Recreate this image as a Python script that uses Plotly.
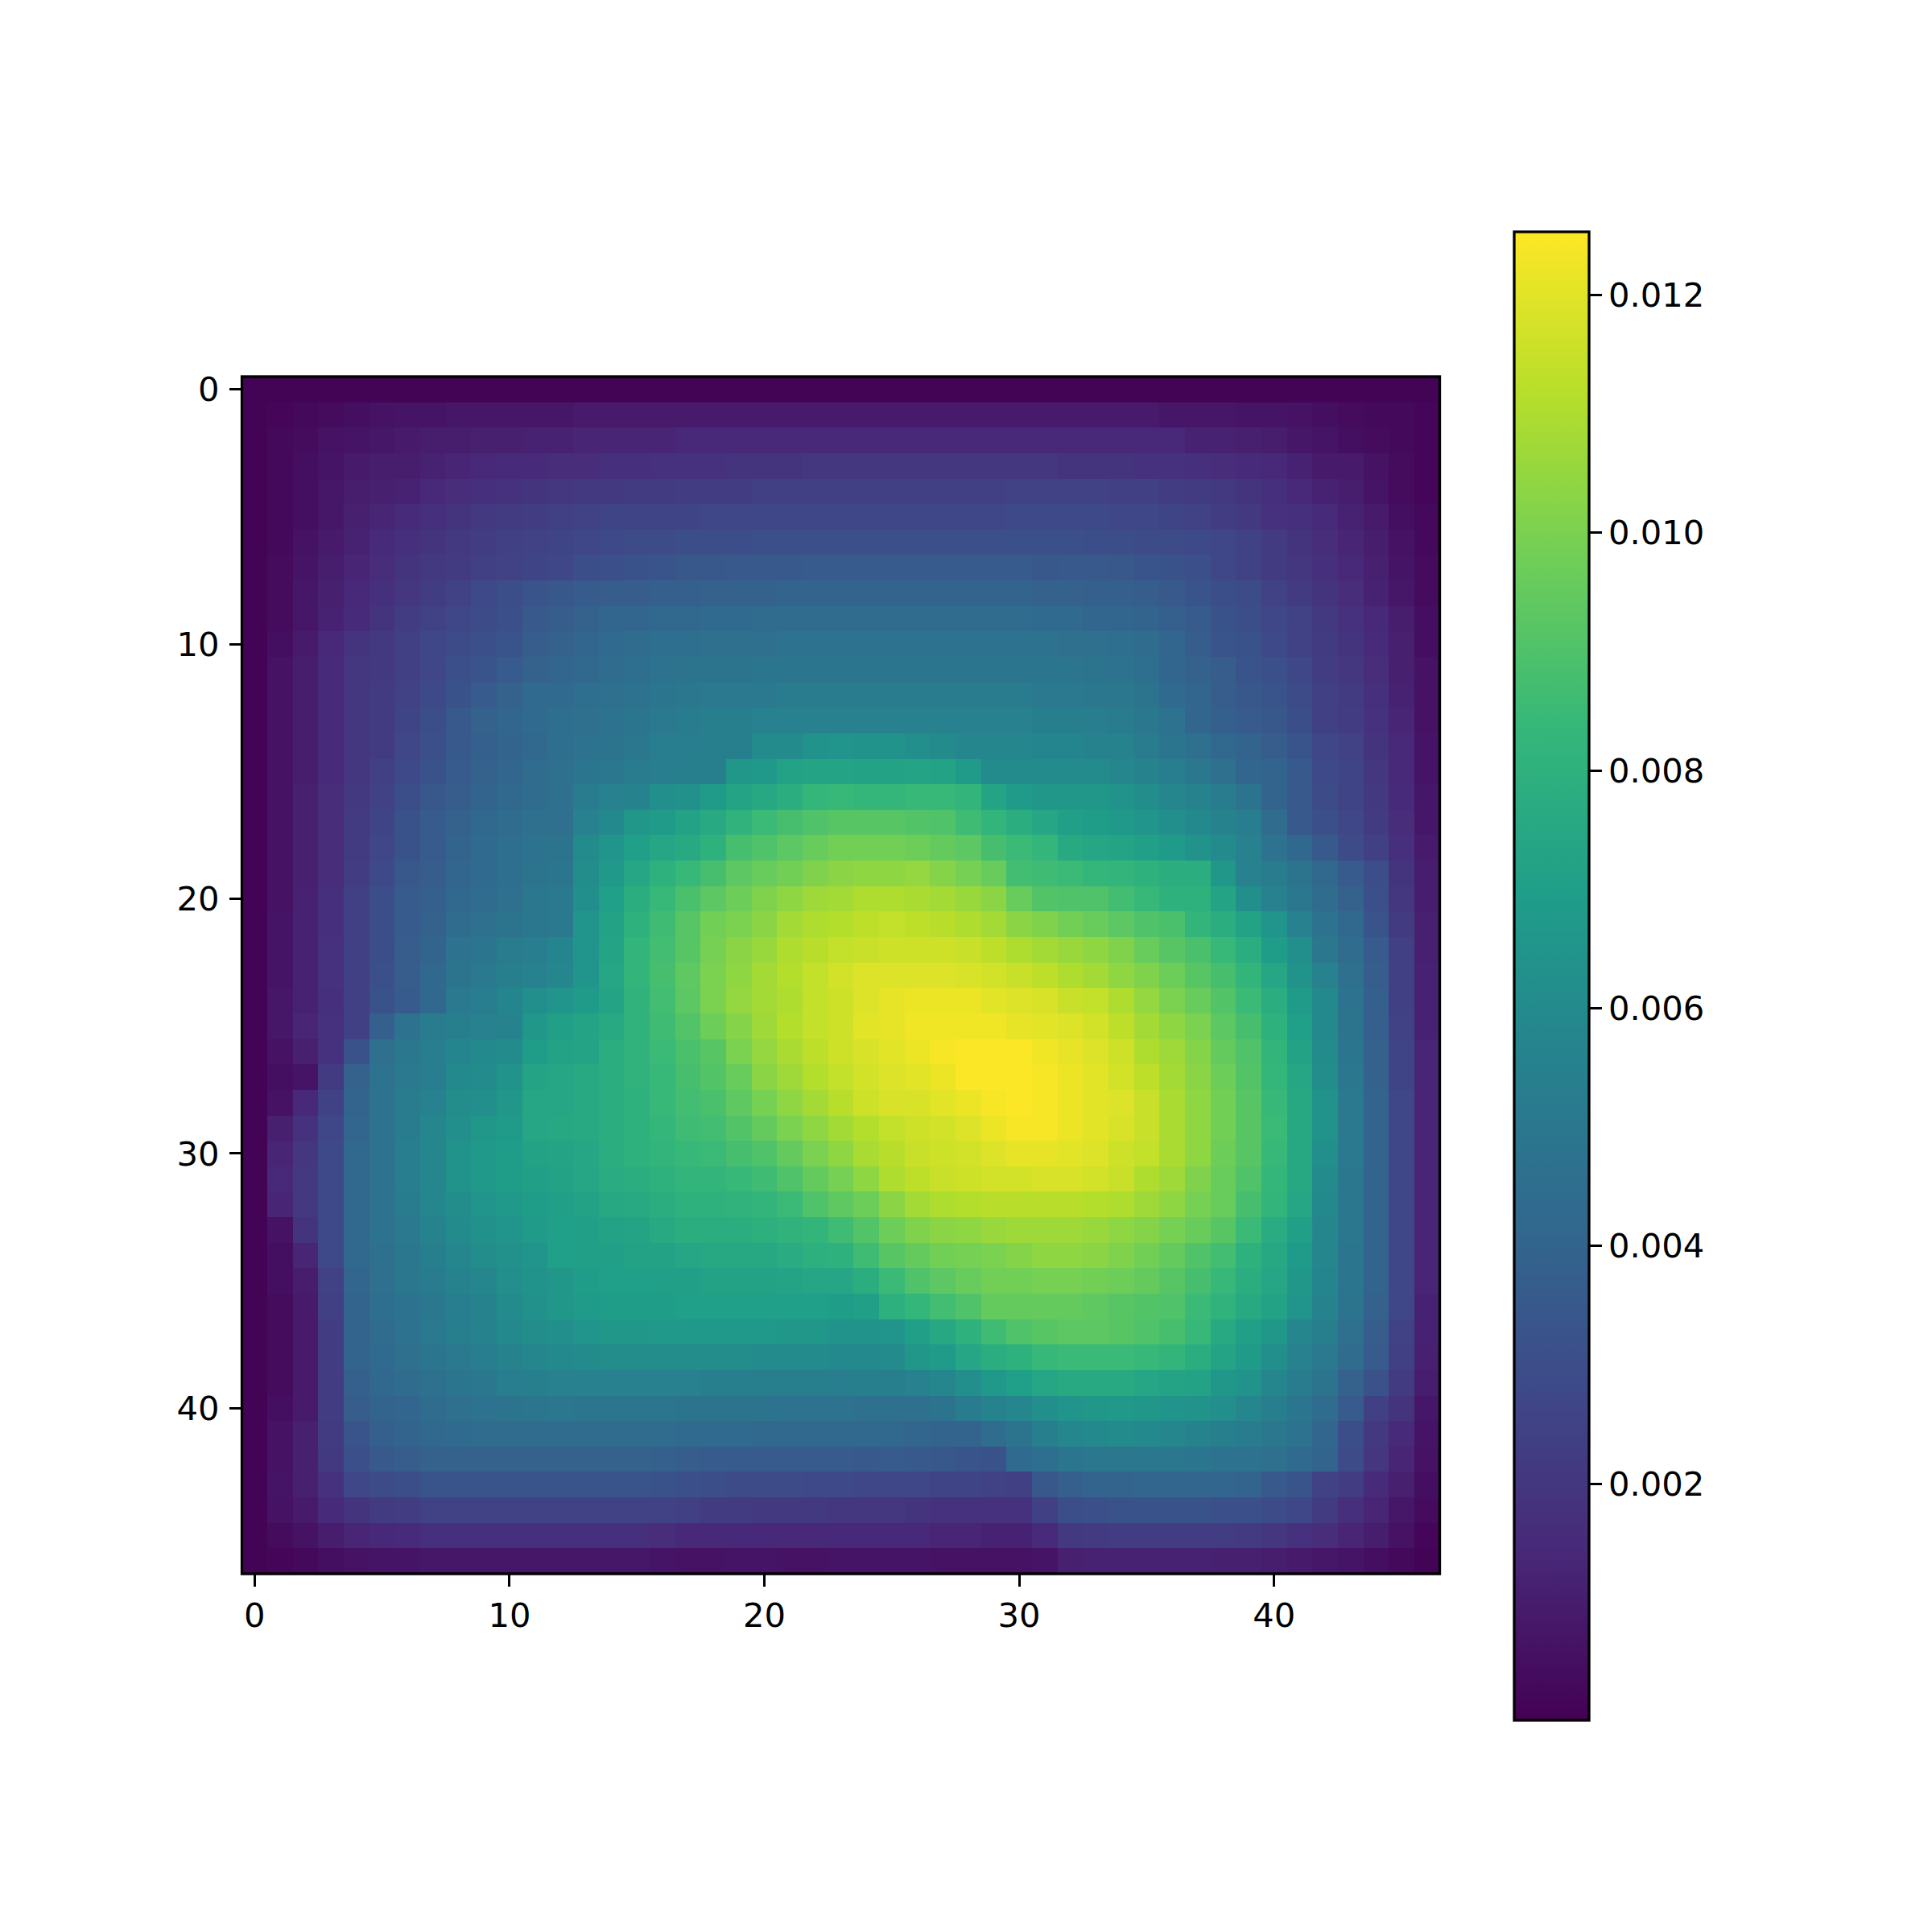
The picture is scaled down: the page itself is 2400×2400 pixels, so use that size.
import numpy as np
import plotly.graph_objects as go

# heatmap cells, in units of 1e-4 (rows top to bottom)
z_rows = [
    [1]*47,
    [1,2,3,4,5,6,7,7,8,8,8,8,8,9,9,9,9,9,9,9,9,9,9,9, 9,9,9,9,9,9,9,9,9,9,9,9,8,8,8,7,7,6,5,4,3,3,2],
    [1,3,4,6,7,8,9,10,10,11,11,12,12,13,13,13,13,14,14,14,14,14,14,14, 14,14,14,14,14,14,14,14,14,14,14,14,14,12,12,11,10,8,7,5,4,3,2],
    [1,3,5,7,9,10,10,12,13,14,15,15,16,16,17,17,18,18,18,19,19,19,20,20, 20,20,20,20,20,20,20,20,19,19,19,18,18,17,16,15,14,12,9,9,6,4,2],
    [1,3,5,8,10,11,12,14,16,17,18,19,20,21,21,22,22,23,23,23,24,24,24,24, 24,24,24,24,24,24,25,25,25,25,24,24,23,22,21,19,17,14,12,10,7,4,2],
    [1,3,5,8,11,13,15,17,19,21,22,23,24,25,26,26,26,26,27,27,27,27,27,27, 27,27,27,27,27,27,28,28,28,28,27,27,26,25,23,21,18,17,15,12,9,5,3],
    [1,3,6,9,12,15,17,19,21,23,24,25,26,27,28,29,29,30,30,30,31,31,31,31, 31,31,31,31,31,31,31,31,31,30,30,29,29,28,27,25,22,19,16,13,10,6,3],
    [1,4,7,10,13,16,19,21,22,24,25,26,27,30,31,32,33,34,34,35,35,35,36,36, 36,36,36,36,36,36,36,34,35,35,34,33,32,31,27,25,22,20,17,14,11,7,4],
    [1,4,8,11,14,17,20,23,25,28,30,33,34,36,37,37,38,38,39,39,39,40,40,40, 40,40,40,40,40,40,40,39,39,38,38,37,35,33,30,29,25,22,19,16,12,8,4],
    [1,4,8,12,15,19,23,25,27,29,31,35,37,39,41,41,42,42,43,43,44,44,44,44, 44,44,44,44,44,44,44,43,43,41,41,40,38,36,32,30,27,25,21,18,14,10,5],
    [1,5,9,14,19,21,24,27,29,31,33,37,39,41,43,44,45,45,46,46,46,47,47,47, 47,47,47,47,47,47,47,47,46,46,45,44,41,37,33,32,28,25,22,19,15,11,5],
    [1,6,10,15,20,21,24,27,31,33,36,39,41,42,44,45,47,48,48,48,49,49,49,49, 49,49,49,49,49,49,49,49,49,48,47,45,41,39,37,33,31,27,23,20,16,11,6],
    [1,6,10,15,20,22,25,28,32,36,39,43,43,45,46,47,49,50,51,51,51,52,52,52, 52,52,52,52,52,52,52,51,51,50,50,48,43,41,37,34,33,29,24,22,17,12,6],
    [1,6,10,15,20,22,26,30,35,39,41,43,45,46,47,49,51,52,54,54,55,55,55,55, 55,55,55,55,55,55,55,54,54,53,52,50,47,41,38,36,34,30,24,23,18,13,6],
    [1,6,10,15,20,22,27,31,35,38,40,42,45,47,48,50,53,53,54,54,60,60,64,65, 64,64,62,60,58,58,58,57,57,56,56,52,49,46,42,40,37,33,27,25,19,14,7],
    [1,6,10,15,20,24,28,32,36,39,41,44,46,49,50,52,53,54,54,66,67,72,73,73, 72,72,73,72,68,60,60,60,60,60,58,56,53,50,46,41,40,35,28,26,20,14,7],
    [1,6,11,16,21,25,30,34,37,40,42,44,46,52,55,56,62,63,68,73,75,78,83,84, 83,83,84,84,82,73,68,66,66,66,64,61,58,56,52,48,40,35,29,26,21,15,8],
    [1,6,11,16,22,26,32,36,39,42,44,46,46,55,59,66,68,72,76,81,85,88,90,92, 92,92,91,90,86,82,78,74,71,69,67,65,62,59,56,53,44,35,31,27,22,16,8],
    [1,6,11,16,22,27,32,36,40,43,45,47,48,60,65,70,74,76,80,88,90,93,96,98, 98,98,97,95,93,88,85,83,76,74,73,71,68,64,60,55,47,42,35,29,24,17,9],
    [1,6,11,16,23,28,34,37,41,43,45,48,49,61,67,74,80,84,88,93,96,98,101,103, 104,104,105,102,99,96,87,86,85,83,82,80,78,78,66,55,52,48,42,36,30,19,10],
    [1,6,12,17,24,30,36,38,42,44,46,50,51,62,70,78,84,89,93,97,101,104,107,108, 110,110,109,108,106,103,96,91,90,90,87,84,80,80,73,62,55,50,44,39,31,20,10],
    [1,7,12,17,24,30,36,39,44,46,48,50,51,65,72,80,86,92,98,100,103,108,110,111, 113,114,113,112,110,108,103,101,98,96,93,90,89,82,78,72,65,55,47,42,33,22,11],
    [1,7,12,18,24,30,37,40,47,49,52,53,57,65,73,82,87,92,99,103,106,110,112,114, 115,116,116,116,115,113,110,108,106,104,101,96,92,89,84,78,69,62,50,44,36,24,11],
    [1,7,12,18,24,31,37,42,48,51,54,55,58,65,74,82,88,94,100,104,108,111,114,117, 119,119,119,119,118,117,115,113,110,108,104,101,97,92,88,82,74,64,55,46,37,24,12],
    [1,8,12,17,24,32,36,42,51,53,57,62,65,68,73,81,87,93,100,105,108,110,114,116, 119,121,122,122,122,120,119,118,115,114,110,105,100,96,91,85,78,68,59,47,38,24,12],
    [1,8,13,18,24,38,47,52,54,55,56,66,71,73,76,81,86,91,97,102,107,111,114,116, 120,121,123,123,123,123,121,120,119,117,113,108,104,100,93,88,80,70,59,48,38,25,12],
    [1,6,11,18,32,46,50,53,57,59,60,69,72,73,78,81,85,89,92,100,105,109,113,116, 118,120,122,124,125,125,125,123,121,119,116,110,107,102,95,90,82,72,60,49,39,26,13],
    [1,5,7,22,39,47,51,53,59,60,64,73,74,76,78,81,84,88,91,96,103,107,111,114, 117,119,120,122,125,125,125,124,122,120,117,113,108,103,97,91,83,74,61,50,39,26,13],
    [1,6,14,25,40,47,52,55,61,62,66,74,74,76,78,80,84,87,89,94,99,104,108,112, 116,118,118,120,122,124,125,124,122,120,119,115,109,104,98,92,84,75,64,51,40,27,13],
    [1,11,18,27,41,47,52,58,62,66,68,74,75,76,78,80,83,86,87,91,95,100,104,108, 111,114,116,117,119,122,124,124,122,120,118,115,109,104,98,92,85,75,64,51,40,27,13],
    [1,13,20,28,42,47,53,58,64,67,69,72,73,74,78,80,82,84,85,88,90,95,100,104, 109,112,115,116,117,119,121,121,120,119,116,114,109,104,97,92,84,75,62,51,40,27,13],
    [1,14,21,28,42,47,53,58,64,67,69,71,72,74,77,78,80,82,82,84,86,90,95,99, 104,110,113,115,116,117,117,118,118,117,115,110,107,101,96,90,83,75,60,50,40,27,13],
    [1,13,21,28,42,47,52,58,61,65,67,69,71,72,75,76,78,80,80,81,82,85,90,94, 97,103,108,110,111,112,112,112,112,111,110,107,104,99,96,88,82,74,59,50,40,27,13],
    [1,6,19,28,42,47,51,56,60,63,65,68,70,71,72,73,76,78,78,78,79,81,82,86, 91,97,101,103,104,106,107,107,107,106,104,102,99,96,92,85,77,71,58,50,40,27,13],
    [1,5,13,28,42,46,50,54,58,61,63,65,70,71,71,72,72,74,75,75,75,77,79,80, 86,92,95,98,99,100,102,104,104,103,101,98,95,90,87,80,75,68,58,49,40,27,13],
    [1,5,10,25,41,46,50,52,56,58,62,64,66,69,70,70,71,71,72,72,72,73,74,74, 78,85,90,93,96,98,98,99,99,98,97,95,92,88,84,78,74,66,57,49,40,27,13],
    [1,4,9,24,40,45,47,50,53,56,60,63,66,68,69,69,69,70,70,70,70,70,70,69, 71,79,83,87,90,95,95,95,95,94,92,91,90,85,81,76,72,65,56,48,39,27,12],
    [1,4,9,23,40,44,47,51,54,56,59,61,62,65,66,66,67,67,67,67,67,66,66,64, 64,65,71,75,80,86,90,92,93,93,92,90,88,84,76,71,66,58,54,46,37,25,12],
    [1,4,9,23,40,43,46,49,51,53,56,58,59,60,61,61,61,61,61,61,60,60,60,59, 59,60,66,68,74,78,80,84,85,85,85,84,82,78,73,68,62,55,51,44,36,24,11],
    [1,4,9,23,38,42,44,46,49,50,53,54,55,55,55,55,55,55,54,54,54,54,54,53, 54,54,55,58,62,67,70,74,76,76,76,74,73,72,66,64,58,52,48,39,32,22,10],
    [1,5,9,23,37,40,41,44,46,47,48,49,50,49,49,49,49,48,48,48,48,47,47,47, 46,46,46,48,52,56,58,62,65,66,67,66,65,64,62,58,54,49,44,36,24,19,8],
    [1,6,11,22,33,38,40,42,43,44,44,44,44,44,44,44,44,43,43,43,42,42,42,42, 42,42,41,40,40,44,48,54,58,59,60,59,58,56,54,52,50,47,41,30,21,15,7],
    [1,6,11,21,31,35,37,39,39,39,39,39,39,39,39,39,38,37,36,36,36,36,36,36, 35,36,35,34,33,32,43,45,49,50,50,50,50,49,47,47,46,43,40,29,20,13,6],
    [1,7,11,18,27,29,30,33,33,33,33,33,33,33,33,33,32,31,30,29,29,29,28,28, 27,27,27,26,26,25,24,34,38,40,40,41,41,41,41,40,35,33,25,23,15,11,5],
    [1,6,9,15,19,22,23,25,25,25,25,25,25,25,25,25,25,24,22,22,21,21,21,20, 20,20,19,18,18,18,18,24,30,31,32,32,32,32,31,31,29,27,22,17,13,8,4],
    [1,4,6,10,13,14,15,17,17,17,17,17,17,17,17,17,16,14,14,14,14,14,14,14, 14,14,14,13,13,12,12,15,21,22,23,23,23,23,23,22,20,18,16,13,10,6,2],
    [1,2,3,5,6,7,7,8,8,8,8,8,8,8,8,8,7,6,6,7,7,6,6,7, 7,7,7,6,6,6,6,7,11,12,12,12,12,12,11,11,10,9,8,7,5,3,1],
]

axis_ticks = [0, 10, 20, 30, 40]
cbar_ticks = [0.002, 0.004, 0.006, 0.008, 0.010, 0.012]
cbar_text = ["0.002", "0.004", "0.006", "0.008", "0.010", "0.012"]

for i, r in enumerate(z_rows):
    assert len(r) == 47, (i, len(r))

z = np.array(z_rows) / 1e4

FONT = dict(family="DejaVu Sans", size=41.67, color="black")
W = 2392.0  # page has an 8px body margin
PAD = 8

fig = go.Figure(go.Heatmap(
    z=z,
    x=list(range(47)),
    y=list(range(47)),
    colorscale="Viridis",
    zmin=0.00001,
    zmax=0.01253,
    hoverinfo="skip",
    colorbar=dict(
        x=(1881 - PAD) / W, xanchor="left", xref="paper",
        y=(W - ((288 + 2137) / 2 - PAD)) / W, yanchor="middle", yref="paper",
        lenmode="pixels", len=1849,
        thicknessmode="pixels", thickness=93,
        xpad=0, ypad=0,
        outlinewidth=3.3, outlinecolor="black",
        tickmode="array", tickvals=cbar_ticks, ticktext=cbar_text,
        ticks="outside", ticklen=14.6, tickwidth=3.3, tickcolor="black",
        tickfont=FONT,
    ),
))

axis_style = dict(
    tickmode="array", tickvals=axis_ticks, ticktext=[str(t) for t in axis_ticks],
    ticks="outside", ticklen=14.6, tickwidth=3.3, tickcolor="black",
    tickfont=FONT, showline=False, showgrid=False, zeroline=False,
)

fig.update_layout(
    width=2392, height=2392,
    margin=dict(l=0, r=0, t=0, b=0, autoexpand=False),
    paper_bgcolor="white", plot_bgcolor="white",
    xaxis=dict(domain=[(300.5 - PAD) / W, (1788.5 - PAD) / W], range=[-0.5, 46.5], **axis_style),
    yaxis=dict(domain=[(W - (1955 - PAD)) / W, (W - (468 - PAD)) / W], range=[46.5, -0.5],
               ticklabelstandoff=4, **axis_style),
)

# black frame round the image
fig.add_shape(type="rect", xref="x domain", yref="y domain", x0=0, x1=1, y0=0, y1=1,
              line=dict(color="black", width=3.3), layer="above")

fig.write_html("out.html")
